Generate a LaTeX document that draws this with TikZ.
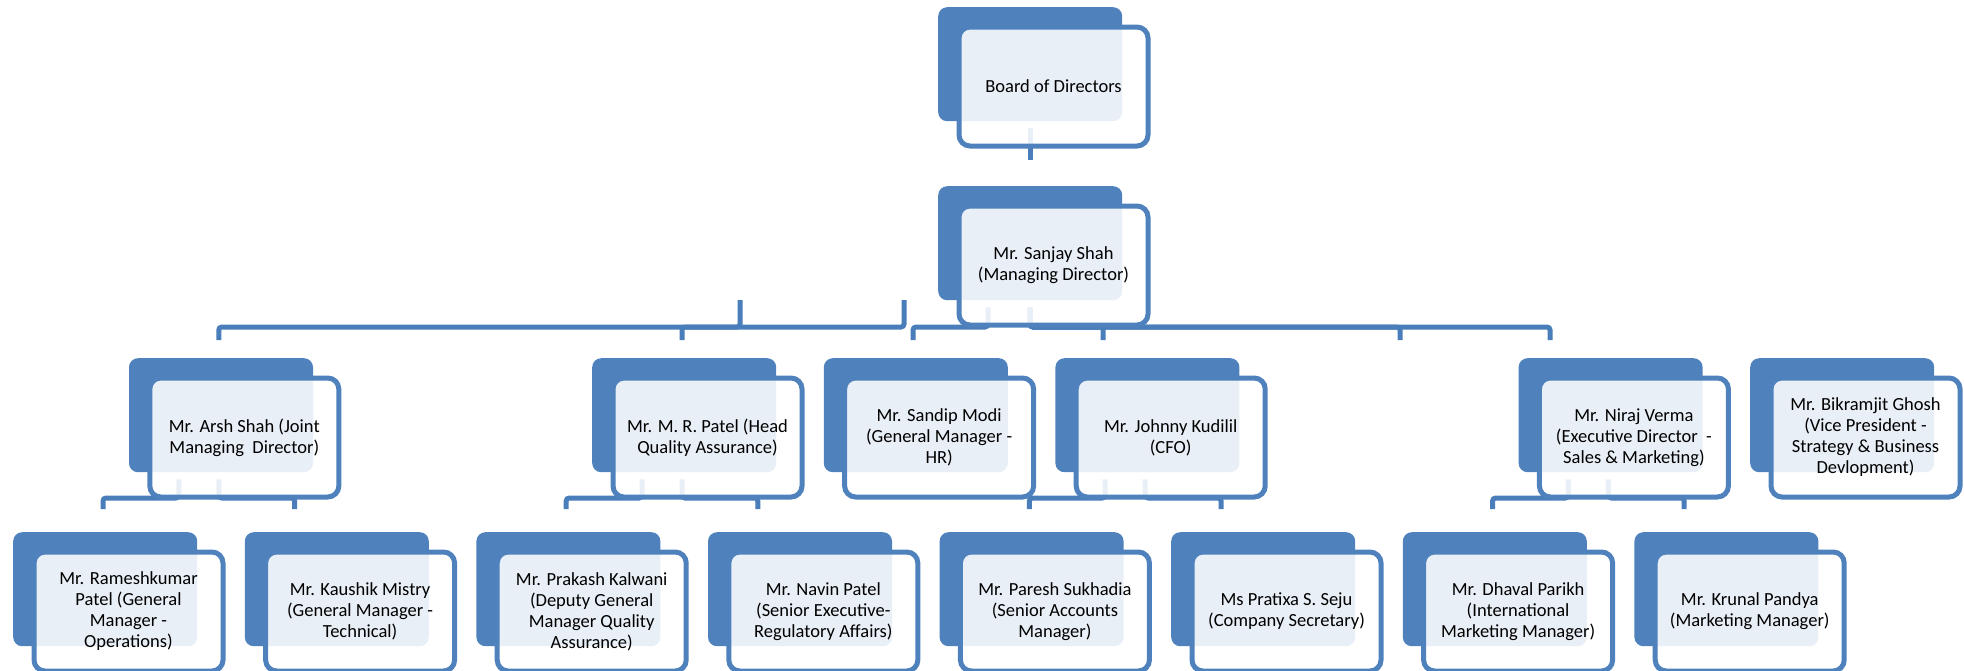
\documentclass[tikz,border=0pt]{standalone}
\usepackage{fontspec}
\setmainfont{Carlito}
\usepackage{xcolor}
\usetikzlibrary{positioning, calc, backgrounds}

\definecolor{boxblue}{HTML}{4F81BD}
\definecolor{linkblue}{HTML}{4A7EBB}

\begin{document}
\begin{tikzpicture}[
    x=1pt, y=-1pt,
    back/.style={rectangle, fill=boxblue, rounded corners=9pt, minimum width=184pt, minimum height=114pt, inner sep=0pt, anchor=north west},
    front/.style={rectangle, draw=boxblue, line width=5pt, fill=white, fill opacity=0.88, text opacity=1, rounded corners=11pt, minimum width=189pt, minimum height=119pt, inner sep=0pt, align=center, font=\fontsize{18.5}{21}\selectfont},
    link/.style={draw=linkblue, line width=5pt, rounded corners=3pt},
]
\useasboundingbox (0,0) rectangle (1964,670);

% Level 0 and 1
\node[back] (board-bk) at (938,7) {};
\node[front, below right=17.5pt and 18.5pt of board-bk.north west] (board) {Board of Directors};

\node[back] (sanjay-bk) at (938,186) {};
\node[front, below right=17.5pt and 18.5pt of sanjay-bk.north west] (sanjay) {Mr. Sanjay Shah\\(Managing Director)};

% Level 2
\node[back] (arsh-bk) at (128.8,358) {};
\node[front, below right=17.5pt and 18.5pt of arsh-bk.north west] (arsh) {Mr. Arsh Shah (Joint\\Managing~~Director)};

\node[back] (patel-bk) at (592,358) {};
\node[front, below right=17.5pt and 18.5pt of patel-bk.north west] (patel) {Mr. M. R. Patel (Head\\Quality Assurance)};

\node[back] (sandip-bk) at (823.6,358) {};
\node[front, below right=17.5pt and 18.5pt of sandip-bk.north west] (sandip) {Mr. Sandip Modi\\(General Manager -\\HR)};

\node[back] (johnny-bk) at (1055.2,358) {};
\node[front, below right=17.5pt and 18.5pt of johnny-bk.north west] (johnny) {Mr. Johnny Kudilil\\(CFO)};

\node[back] (niraj-bk) at (1518.4,358) {};
\node[front, below right=17.5pt and 18.5pt of niraj-bk.north west] (niraj) {Mr. Niraj Verma\\(Executive Director~~-\\Sales \& Marketing)};

\node[back] (bikram-bk) at (1750,358) {};
\node[front, below right=17.5pt and 18.5pt of bikram-bk.north west] (bikram) {Mr. Bikramjit Ghosh\\(Vice President -\\Strategy \& Business\\Devlopment)};

% Level 3
\node[back] (ramesh-bk) at (13,532) {};
\node[front, below right=17.5pt and 18.5pt of ramesh-bk.north west] (ramesh) {Mr. Rameshkumar\\Patel (General\\Manager -\\Operations)};

\node[back] (kaushik-bk) at (244.6,532) {};
\node[front, below right=17.5pt and 18.5pt of kaushik-bk.north west] (kaushik) {Mr. Kaushik Mistry\\(General Manager -\\Technical)};

\node[back] (prakash-bk) at (476.2,532) {};
\node[front, below right=17.5pt and 18.5pt of prakash-bk.north west] (prakash) {Mr. Prakash Kalwani\\(Deputy General\\Manager Quality\\Assurance)};

\node[back] (navin-bk) at (707.8,532) {};
\node[front, below right=17.5pt and 18.5pt of navin-bk.north west] (navin) {Mr. Navin Patel\\(Senior Executive-\\Regulatory Affairs)};

\node[back] (paresh-bk) at (939.4,532) {};
\node[front, below right=17.5pt and 18.5pt of paresh-bk.north west] (paresh) {Mr. Paresh Sukhadia\\(Senior Accounts\\Manager)};

\node[back] (pratixa-bk) at (1171,532) {};
\node[front, below right=17.5pt and 18.5pt of pratixa-bk.north west] (pratixa) {Ms Pratixa S. Seju\\(Company Secretary)};

\node[back] (dhaval-bk) at (1402.6,532) {};
\node[front, below right=17.5pt and 18.5pt of dhaval-bk.north west] (dhaval) {Mr. Dhaval Parikh\\(International\\Marketing Manager)};

\node[back] (krunal-bk) at (1634.2,532) {};
\node[front, below right=17.5pt and 18.5pt of krunal-bk.north west] (krunal) {Mr. Krunal Pandya\\(Marketing Manager)};

% Connectors (behind the boxes)
\begin{scope}[on background layer]
\coordinate (sanjay-top) at (1030,160);
\coordinate (stub-a) at (904,300);
\coordinate (stub-b) at (740,300);

\draw[link] ($(board-bk.south west)+(92,7)$) -- (sanjay-top);

\draw[link] (stub-a) |- ($(arsh-bk.north west)+(90,-31)$) -- ++(0,13);
\draw[link] (stub-b) |- ($(patel-bk.north west)+(90,-31)$) -- ++(0,13);
\draw[link] ($(sanjay-bk.south west)+(50,7)$) |- ($(sandip-bk.north west)+(89.4,-31)$) -- ++(0,13);
\draw[link] ($(sanjay-bk.south west)+(92,7)$) |- ($(johnny-bk.north west)+(48,-31)$) -- ++(0,13);
\draw[link] ($(sanjay-bk.south west)+(92,7)$) |- ($(niraj-bk.north west)+(-118.4,-31)$) -- ++(0,13);
\draw[link] ($(sanjay-bk.south west)+(92,7)$) |- ($(niraj-bk.north west)+(31.6,-31)$) -- ++(0,13);

\draw[link] ($(arsh-bk.south west)+(50,7)$) |- ($(ramesh-bk.north west)+(90,-34)$) -- ++(0,11);
\draw[link] ($(arsh-bk.south west)+(90,7)$) |- ($(kaushik-bk.north west)+(50,-34)$) -- ++(0,11);
\draw[link] ($(patel-bk.south west)+(50,7)$) |- ($(prakash-bk.north west)+(90,-34)$) -- ++(0,11);
\draw[link] ($(patel-bk.south west)+(90,7)$) |- ($(navin-bk.north west)+(50,-34)$) -- ++(0,11);
\draw[link] ($(johnny-bk.south west)+(50,7)$) |- ($(paresh-bk.north west)+(90,-34)$) -- ++(0,11);
\draw[link] ($(johnny-bk.south west)+(90,7)$) |- ($(pratixa-bk.north west)+(50,-34)$) -- ++(0,11);
\draw[link] ($(niraj-bk.south west)+(50,7)$) |- ($(dhaval-bk.north west)+(90,-34)$) -- ++(0,11);
\draw[link] ($(niraj-bk.south west)+(90,7)$) |- ($(krunal-bk.north west)+(50,-34)$) -- ++(0,11);
\end{scope}

\end{tikzpicture}
\end{document}
